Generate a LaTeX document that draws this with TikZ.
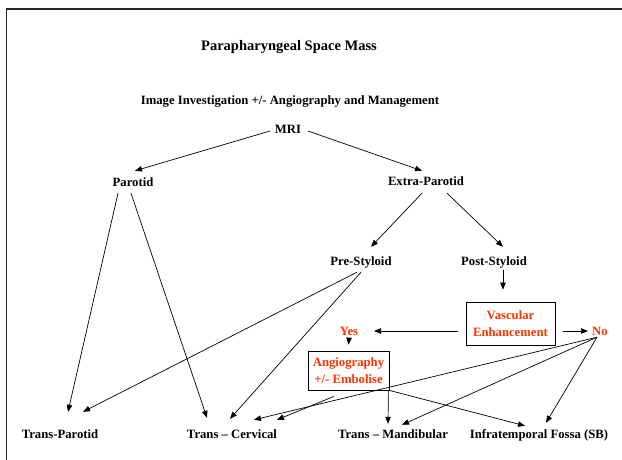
\documentclass[tikz,border=0pt]{standalone}
\usepackage{fontspec}
\setmainfont{Liberation Serif}
\usetikzlibrary{arrows.meta}
\definecolor{enhred}{RGB}{255,51,0}
\tikzset{
  lbl/.style={font=\bfseries\fontsize{12.7}{15}\selectfont, inner sep=0, text height=9pt, text depth=3pt, anchor=base},
  redlbl/.style={lbl, text=enhred},
  decbox/.style={draw, line width=0.8pt, text=enhred, font=\bfseries\fontsize{12.7}{16.5}\selectfont, align=center, inner sep=0},
  link/.style={->, line width=0.7pt}
}

\begin{document}
\begin{tikzpicture}[x=1pt, y=-1pt, >={Triangle[length=7pt,width=5.5pt]}]
\fill[white] (0,0) rectangle (622,460);
\useasboundingbox (0,0) rectangle (622,460);
\draw[line width=1.2pt, black!85] (6.5,460) -- (6.5,9) -- (622,9);

% headings
\node[lbl, font=\bfseries\fontsize{14.5}{17}\selectfont] (title) at (289,51) {Parapharyngeal Space Mass};
\node[lbl] (subtitle) at (290,105) {Image Investigation +/- Angiography and Management};

% tree
\node[lbl] (mri) at (288,134) {MRI};
\node[lbl] (parotid) at (133,186) {Parotid};
\node[lbl] (extra) at (426,185) {Extra-Parotid};
\node[lbl] (pre) at (361,265) {Pre-Styloid};
\node[lbl] (post) at (494,265) {Post-Styloid};
\node[decbox, minimum width=89pt, minimum height=43pt] (vasc) at (510.5,323.5) {Vascular\\Enhancement};
\node[redlbl] (yes) at (349,335) {Yes};
\node[redlbl] (no) at (600,335) {No};
\node[decbox, minimum width=81pt, minimum height=39pt] (angio) at (348.5,370.5) {Angiography\\+/- Embolise};

% outcomes
\node[lbl] (tparotid) at (60,438) {Trans-Parotid};
\node[lbl] (tcervical) at (232,438) {Trans -- Cervical};
\node[lbl] (tmand) at (393,438) {Trans -- Mandibular};
\node[lbl] (infra) at (539,438) {Infratemporal Fossa (SB)};

% connectors
\draw[link] ([shift={(-18,0)}]mri.center) -- ([shift={(2,-6)}]parotid.north);
\draw[link] ([shift={(20,0)}]mri.center) -- ([shift={(-4,-5)}]extra.north);
\draw[link] ([shift={(-4,5)}]extra.south) -- ([shift={(10,-9)}]pre.north);
\draw[link] ([shift={(21,5)}]extra.south) -- ([shift={(9,-9)}]post.north);
\draw[link] ([shift={(9,2)}]post.south) -- ([shift={(-7.5,-12)}]vasc.north);
\draw[link] ([shift={(-8,7.5)}]vasc.west) -- ([shift={(25,-1)}]yes.center);
\draw[link] ([shift={(8,7.5)}]vasc.east) -- ([shift={(-12,-1)}]no.center);
\draw[link] (yes.south) -- ([shift={(0,-6)}]angio.north);
\draw[link] ([shift={(-1,0)}]angio.south east) -- ([shift={(-5,-5)}]tmand.north);
\draw[link] (angio.south east) -- ([shift={(-14,-3)}]infra.north);
\draw[link] ([shift={(-14.5,6)}]angio.south) -- ([shift={(45,-9)}]tcervical.north);
\foreach \target/\dx/\dy in {tcervical/22/-9, tmand/9/-4, infra/7/-6}
  \draw[link] ([shift={(-3,-1)}]no.south) -- ([shift={(\dx,\dy)}]\target.north);
\draw[link] ([shift={(-15,4)}]parotid.south) -- ([shift={(8,-17)}]tparotid.north);
\draw[link] ([shift={(-2,4)}]parotid.south) -- ([shift={(-25,-11)}]tcervical.north);
\draw[link] ([shift={(-4,4)}]pre.south) -- ([shift={(23,-17)}]tparotid.north);
\draw[link] ([shift={(0,4)}]pre.south) -- ([shift={(-2,-10)}]tcervical.north);
\end{tikzpicture}
\end{document}
